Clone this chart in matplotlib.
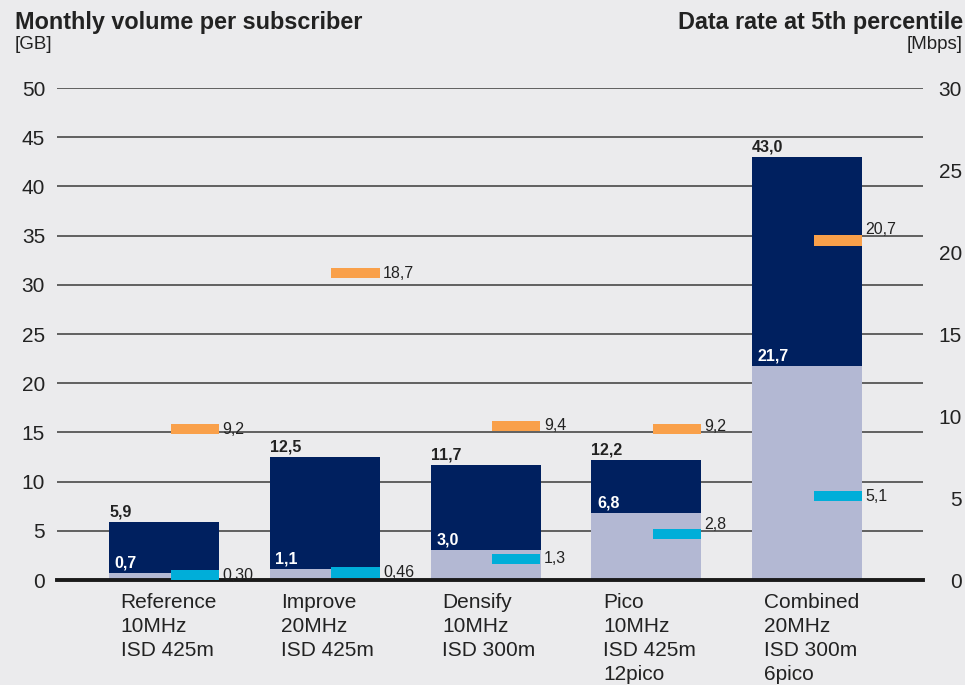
import numpy as np
import matplotlib.pyplot as plt

# ====== Data ======
categories = [
    "Reference\n10MHz\nISD 425m",
    "Improve\n20MHz\nISD 425m",
    "Densify\n10MHz\nISD 300m",
    "Pico\n10MHz\nISD 425m\n12pico",
    "Combined\n20MHz\nISD 300m\n6pico",
]
total_gb = [5.9, 12.5, 11.7, 12.2, 43.0]
lower_gb = [0.7, 1.1, 3.0, 6.8, 21.7]
rate_orange = [9.2, 18.7, 9.4, 9.2, 20.7]
rate_cyan = [0.30, 0.46, 1.3, 2.8, 5.1]
cyan_labels = ["0,30", "0,46", "1,3", "2,8", "5,1"]

# ====== Style ======
BG = "#ebebed"
NAVY = "#00205f"
LAVENDER = "#b3b8d3"
ORANGE = "#f9a04a"
CYAN = "#00aed9"
GRID = "#555555"
TEXT = "#222222"
BAR_W = 0.684
MARK_OFF = 0.04
MARK_W = 0.30
MARK_H = 0.62  # in Mbps units

plt.rcParams["font.family"] = ["Liberation Sans", "DejaVu Sans"]


def fmt(v):
    return f"{v:.1f}".replace(".", ",")


fig = plt.figure(figsize=(9.65, 6.85), dpi=100, facecolor=BG)
ax = fig.add_axes([57 / 965, 1 - 580 / 685, (923 - 57) / 965, (580 - 88) / 685])
ax.set_facecolor(BG)
ax2 = ax.twinx()

x = np.arange(len(categories))

# volume bars
ax.bar(x, total_gb, BAR_W, color=NAVY, zorder=3)
ax.bar(x, lower_gb, BAR_W, color=LAVENDER, zorder=4)

ax.set_xlim(-0.666, 4.72)
ax.set_ylim(0, 50)
ax.set_yticks(np.arange(0, 51, 5))
ax.set_axisbelow(True)
ax.grid(axis="y", color=GRID, linewidth=1.3)
ax.tick_params(axis="y", length=0, pad=8.6, labelsize=15, labelcolor=TEXT)
ax.tick_params(axis="x", length=0)
ax.set_xticks([])
for s in ["left", "right", "top"]:
    ax.spines[s].set_visible(False)
ax.spines["bottom"].set_color("#1a1a1a")
ax.spines["bottom"].set_linewidth(2.8)
ax.spines["bottom"].set_zorder(6)

for i, (t, lo) in enumerate(zip(total_gb, lower_gb)):
    left = x[i] - BAR_W / 2
    ax.annotate(fmt(t), (left, t), xytext=(0, 1.5), textcoords="offset points",
                ha="left", va="bottom", fontsize=11.5, fontweight="bold",
                color=TEXT, zorder=7)
    ax.annotate(fmt(lo), (left, lo), xytext=(4, 2), textcoords="offset points",
                ha="left", va="bottom", fontsize=11.5, fontweight="bold",
                color="white", zorder=7)

# category labels under the axis
for i, cat in enumerate(categories):
    ax.annotate(cat, (x[i] - BAR_W / 2, 0), xytext=(8.3, -9),
                textcoords="offset points", ha="left", va="top",
                fontsize=15, linespacing=1.34, color=TEXT,
                annotation_clip=False)

# data rate markers (right axis)
ax2.set_ylim(0, 30)
ax2.set_yticks(np.arange(0, 31, 5))
ax2.tick_params(axis="y", length=0, pad=28, labelsize=15, labelcolor=TEXT)
for lab in ax2.get_yticklabels():
    lab.set_ha("right")
for s in ax2.spines.values():
    s.set_visible(False)

mark_left = x + MARK_OFF
ax2.bar(mark_left, MARK_H, MARK_W, bottom=np.array(rate_orange) - MARK_H / 2,
        align="edge", color=ORANGE, zorder=5)
ax2.bar(mark_left, MARK_H, MARK_W, bottom=np.array(rate_cyan) - MARK_H / 2,
        align="edge", color=CYAN, zorder=5)

label_dy_orange = [0, 0, 0, 2, 8]
label_dy_cyan = [0, 0, 0, 7, 0]
for i in range(len(categories)):
    ax2.annotate(fmt(rate_orange[i]), (mark_left[i] + MARK_W, rate_orange[i]),
                 xytext=(2.5, label_dy_orange[i]), textcoords="offset points",
                 ha="left", va="center", fontsize=11.5, color=TEXT)
    ax2.annotate(cyan_labels[i], (mark_left[i] + MARK_W, rate_cyan[i]),
                 xytext=(2.5, label_dy_cyan[i]), textcoords="offset points",
                 ha="left", va="center", fontsize=11.5, color=TEXT)

# titles
fig.text(15 / 965, 1 - 11 / 685, "Monthly volume per subscriber", ha="left",
         va="top", fontsize=16.8, fontweight="bold", color=TEXT)
fig.text(15 / 965, 1 - 36 / 685, "[GB]", ha="left", va="top",
         fontsize=13.5, color=TEXT)
fig.text(963 / 965, 1 - 11 / 685, "Data rate at 5th percentile", ha="right",
         va="top", fontsize=16.8, fontweight="bold", color=TEXT)
fig.text(963 / 965, 1 - 36 / 685, "[Mbps]", ha="right", va="top",
         fontsize=13.5, color=TEXT)

fig.savefig("out.png", dpi=100, facecolor=BG)
